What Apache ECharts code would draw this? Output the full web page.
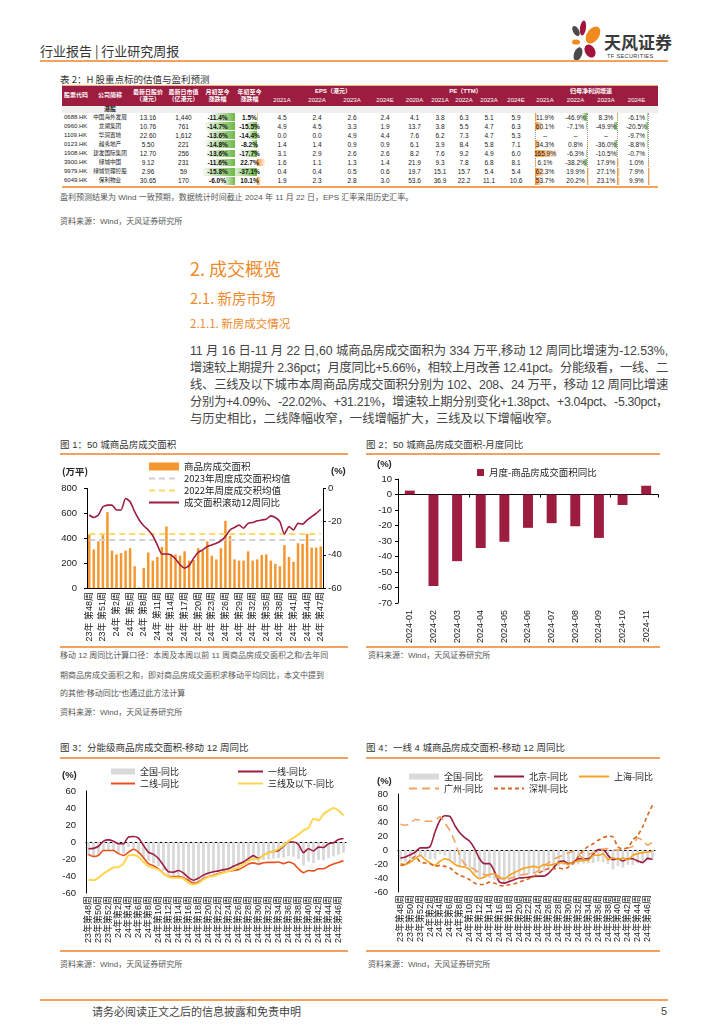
<!DOCTYPE html>
<html lang="zh-CN">
<head>
<meta charset="utf-8">
<title>行业研究周报</title>
<script src="https://cdn.jsdelivr.net/npm/echarts@6/dist/echarts.min.js"></script>
<style>
html,body{margin:0;padding:0;background:#fff;}
body{width:724px;height:1024px;position:relative;overflow:hidden;font-family:"Liberation Sans","Noto Sans CJK SC",sans-serif;color:#333;}
.a{position:absolute;white-space:nowrap;}
.cap{font-size:9.5px;color:#333;line-height:12px;}
.src{font-size:8px;color:#555;line-height:10px;}
.rule{position:absolute;height:1.5px;background:#F3A15C;}
.h{color:#EE8A2B;font-family:"Noto Sans CJK SC",sans-serif;}
.p{font-size:12.3px;color:#444;line-height:16px;font-family:"Liberation Sans","Noto Sans CJK SC",sans-serif;}
.tc{position:absolute;text-align:center;white-space:nowrap;font-size:6.5px;font-family:"Liberation Sans","Noto Sans CJK SC",sans-serif;}
.chart{position:absolute;}
</style>
</head>
<body>
<script>
// ================= DATA =================
const weekLabels = ['23年第48周','23年第49周','23年第50周','23年第51周','23年第52周',
'24年第1周','24年第2周','24年第3周','24年第4周','24年第5周','24年第6周','24年第7周','24年第8周','24年第9周','24年第10周',
'24年第11周','24年第12周','24年第13周','24年第14周','24年第15周','24年第16周','24年第17周','24年第18周','24年第19周','24年第20周',
'24年第21周','24年第22周','24年第23周','24年第24周','24年第25周','24年第26周','24年第27周','24年第28周','24年第29周','24年第30周',
'24年第31周','24年第32周','24年第33周','24年第34周','24年第35周','24年第36周','24年第37周','24年第38周','24年第39周','24年第40周',
'24年第41周','24年第42周','24年第43周','24年第44周','24年第45周','24年第46周','24年第47周'];
// 图1 商品房成交面积（万平）
const area50 = [430,310,375,425,610,300,270,280,300,320,175,5,160,285,220,250,330,495,270,270,260,295,220,225,320,300,375,260,230,320,540,420,230,220,220,295,220,230,265,270,220,195,175,345,250,210,360,355,435,325,325,334];
const avg2023 = 385;
const avg2022 = 435;
// 成交面积滚动12周同比（%），同时为“全国-同比”
const rolling12 = [-16,-17.5,-16,-11,-10,-10,-13,-13,-6,-8,-14,-19,-22.5,-25,-28.5,-34,-39.5,-39.5,-40,-42.5,-46,-48,-46.5,-42,-38.5,-37,-35,-34,-33,-31.5,-29,-25,-23.5,-22,-24,-21,-20.5,-19.5,-19,-18.5,-16.5,-17.5,-20,-27.5,-23,-25,-21,-21.5,-19,-17,-15,-12.53];
// 图2 月度同比
const months = ['2024-01','2024-02','2024-03','2024-04','2024-05','2024-06','2024-07','2024-08','2024-09','2024-10','2024-11'];
const monthlyYoY = [2.5,-59,-43,-34.5,-30.5,-21.5,-18.5,-20.5,-28,-6.75,5.66];
// 图3 分能级
const tier1 = [-8,-7.5,-5,1,2.5,1,-2,-2,6,6.5,4.5,-4,-12,-14.5,-19.5,-27.5,-35,-35.5,-33.5,-36.5,-42,-45,-42.5,-39,-36.5,-35,-34,-32.5,-31.5,-28.5,-26,-23.5,-19.5,-16,-19.5,-15.5,-12.5,-11,-10,-5,0,0,-3,-12.5,-8,-10.5,-6,-6.5,-2,-1,3,4.09];
const tier2 = [-14.5,-17,-15.7,-10,-10,-10,-13.7,-15.7,-12,-8.5,-12,-18.5,-25.5,-28,-31.5,-37,-40.5,-40.5,-40.5,-42,-45,-48.5,-47,-43,-40.5,-39,-37,-35.5,-34.5,-33.5,-32.5,-29.5,-26,-24.5,-26,-24.5,-24,-24,-23.5,-25.5,-23.5,-25.5,-31.5,-36,-33.5,-34,-31.5,-31.5,-28.5,-26,-24,-22.02];
const tier3 = [-44.5,-45,-42,-37,-33.5,-30,-29.5,-25.5,-15.7,-15.3,-17.5,-23.5,-28.5,-30.5,-32.5,-37,-41,-42,-42,-43,-48,-50,-48.5,-44,-41,-40,-38,-36,-34.5,-32.5,-29.5,-26,-22.5,-19.5,-20.5,-15.7,-13,-11,-8,-4,1,5,9,13.7,16.5,27.5,25.5,33,37,40,37,31.21];
// 图4 一线城市
const beijing = [-11.5,-10,-6.7,-3,3,3,5,26,42.5,49,48,35,24.5,17.7,12.5,2,-12.5,-19.5,-19.5,-30.5,-45.8,-47.3,-45,-42.5,-40,-39.7,-38.7,-37.7,-37.3,-37.3,-33,-25.3,-17.2,-15.8,-19.5,-17.2,-12.4,-12.4,-12.4,-6.2,0.5,0.5,-7.6,-13.8,-12.4,-15.8,-12.4,-12.4,-15.8,-18,-12,-13.5];
const shanghai = [-19.6,-20.5,-17.2,-12.4,-7.6,-13.8,-18.6,-22,-15.8,-12.4,-14.8,-20.5,-23.4,-24.4,-28.2,-36.3,-41,-38.7,-34.9,-34,-38.7,-41,-36.3,-32.5,-29.1,-25.8,-24.4,-23.4,-25.3,-20.5,-22,-20.5,-18.6,-18.6,-20.5,-17.2,-15.8,-14.8,-14.8,-7.6,-7.6,-5.3,-13.8,-11,-13.4,-11.5,-13.8,-7.6,-5.3,-3.8,-2.9,-1.9];
const guangzhou = [36.8,35.4,37.7,43.5,42.5,41,41,42.5,47.3,38,28,12,-8,-20,-24,-28,-33,-35,-36,-38,-40,-42,-41,-38.7,-36.3,-34.9,-34,-33,-29,-23,-18,-13,-10,-7,-4,-2,-6,-12,-7,-4,-2,1,2,0,0,2,3,5,17,14,7,11.5];
const shenzhen = [-22,-20.5,-14.8,-9,-17.2,-18.6,-19.6,-23.4,-22,-23.4,-25.3,-31.5,-36.3,-38.7,-42.5,-47.3,-49.2,-49.2,-45.9,-47.3,-50.6,-51,-49.7,-48.3,-45.9,-43.5,-41,-37.7,-33,-29.1,-26.8,-26.8,-25.8,-26.8,-24.4,-18.6,-9,-0.5,5.3,9,13.9,17.7,19.6,18.6,4.3,1.9,3.3,13.9,21,33,49.7,64];
// 表2
const tblCodes = ['0688.HK','0960.HK','1109.HK','0123.HK','1908.HK','3900.HK','9979.HK','6049.HK'];
const tblNames = ['中国海外发展','龙湖集团','华润置地','越秀地产','建发国际集团','绿城中国','绿城管理控股','保利物业'];
const tblPrice = [13.16,10.76,22.60,5.50,12.70,9.12,2.96,30.65];
const tblCap = [1440,761,1612,221,256,231,59,170];
const tblMtd = [-11.4,-14.7,-13.6,-14.8,-13.6,-11.6,-15.8,-6.0];
const tblYtd = [1.5,-15.5,-14.4,-8.2,-17.7,22.7,-37.1,10.1];
const eps2021A = [4.5,4.9,0.0,1.4,3.1,1.6,0.4,1.9];
const eps2022A = [2.4,4.5,0.0,1.4,2.9,1.1,0.4,2.3];
const eps2023A = [2.6,3.3,4.9,0.9,2.6,1.3,0.5,2.8];
const eps2024E = [2.4,1.9,4.4,0.9,2.6,1.4,0.6,3.0];
const pe2020A = [4.1,13.7,7.6,6.1,8.2,21.9,19.7,53.6];
const pe2021A = [3.8,3.8,6.2,3.9,7.6,9.3,15.1,36.9];
const pe2022A = [6.3,5.5,7.3,8.4,9.2,7.8,15.7,22.2];
const pe2023A = [5.1,4.7,4.7,5.8,4.9,6.8,5.4,11.1];
const pe2024E = [5.9,6.3,5.3,7.1,6.0,8.1,5.4,10.6];
const np2021A = [11.9,60.1,null,34.3,165.9,6.1,62.3,53.7];
const np2022A = [-46.9,-7.1,null,0.8,-6.3,-38.2,19.9,20.2];
const np2023A = [8.3,-49.9,null,-36.0,-10.5,17.9,27.1,23.1];
const np2024E = [-6.1,-20.5,-9.7,-8.8,-0.7,1.0,7.9,9.9];
</script>

<!-- header -->
<div class="a" style="left:40px;top:43px;font-size:13px;line-height:16px;color:#333;font-family:'Noto Sans CJK SC'">行业报告 | 行业研究周报</div>
<svg class="a" style="left:569px;top:20px" width="34" height="42" viewBox="0 0 34 42">
  <ellipse cx="7" cy="11" rx="3" ry="5.5" transform="rotate(-30 7 11)" fill="#4a4a4a"/>
  <ellipse cx="14" cy="8" rx="3" ry="7.5" transform="rotate(8 14 8)" fill="#A3143C"/>
  <ellipse cx="24" cy="15" rx="6" ry="9.5" transform="rotate(35 24 15)" fill="#F08A1C"/>
  <ellipse cx="7" cy="22" rx="4" ry="2.6" fill="#F08A1C"/>
  <ellipse cx="21" cy="31" rx="5" ry="7" transform="rotate(-30 21 31)" fill="#A3143C"/>
  <ellipse cx="9" cy="34" rx="4" ry="7" transform="rotate(20 9 34)" fill="#4a4a4a"/>
</svg>
<div class="a" style="left:604px;top:32px;font-size:17px;line-height:20px;font-weight:bold;color:#3a3a3a;font-family:'Noto Sans CJK SC'">天风证券</div>
<div class="a" style="left:607px;top:53px;font-size:5.5px;line-height:6px;letter-spacing:0.4px;color:#333">TF SECURITIES</div>
<div class="rule" style="left:40px;top:60px;width:628px;height:2px"></div>

<!-- table -->
<div class="a cap" style="left:60px;top:73px;font-family:'Noto Sans CJK SC'">表 2：H 股重点标的估值与盈利预测</div>
<div id="tbl"></div>
<div class="a src" style="left:60px;top:193px">盈利预测结果为 Wind 一致预期，数据统计时间截止 2024 年 11 月 22 日，EPS 汇率采用历史汇率。</div>
<div class="a src" style="left:60px;top:217px">资料来源：Wind，天风证券研究所</div>

<!-- text -->
<div class="a h" style="left:190px;top:257px;font-size:18px;line-height:22px">2. 成交概览</div>
<div class="a h" style="left:190px;top:289px;font-size:14.5px;line-height:18px">2.1. 新房市场</div>
<div class="a h" style="left:190px;top:316px;font-size:11.5px;line-height:14px">2.1.1. 新房成交情况</div>
<div class="a p fit" style="left:190px;top:343px">11 月 16 日-11 月 22 日,60 城商品房成交面积为 334 万平,移动 12 周同比增速为-12.53%,</div>
<div class="a p fit" style="left:190px;top:360px">增速较上期提升 2.36pct；月度同比+5.66%，相较上月改善 12.41pct。分能级看，一线、二</div>
<div class="a p fit" style="left:190px;top:377px">线、三线及以下城市本周商品房成交面积分别为 102、208、24 万平，移动 12 周同比增速</div>
<div class="a p fit" style="left:190px;top:394px">分别为+4.09%、-22.02%、+31.21%，增速较上期分别变化+1.38pct、+3.04pct、-5.30pct，</div>
<div class="a p" style="left:190px;top:411px">与历史相比，二线降幅收窄，一线增幅扩大，三线及以下增幅收窄。</div>

<!-- chart captions -->
<div class="a cap" style="left:60px;top:439px">图 1：50 城商品房成交面积</div>
<div class="rule" style="left:60px;top:453px;width:288px"></div>
<div class="a cap" style="left:366px;top:439px">图 2：50 城商品房成交面积-月度同比</div>
<div class="rule" style="left:366px;top:453px;width:294px"></div>
<div id="c1" class="chart" style="left:60px;top:456px;width:290px;height:189px"></div>
<div id="c2" class="chart" style="left:366px;top:456px;width:294px;height:189px"></div>
<div class="rule" style="left:60px;top:646px;width:288px"></div>
<div class="rule" style="left:366px;top:646px;width:294px"></div>
<div class="a src" style="left:60px;top:651px">移动 12 周同比计算口径：本周及本周以前 11 周商品房成交面积之和/去年同</div>
<div class="a src" style="left:60px;top:671px">期商品房成交面积之和，即对商品房成交面积求移动平均同比，本文中提到</div>
<div class="a src" style="left:60px;top:689px">的其他“移动同比”也通过此方法计算</div>
<div class="a src" style="left:60px;top:708px">资料来源：Wind，天风证券研究所</div>
<div class="a src" style="left:368px;top:651px">资料来源：Wind，天风证券研究所</div>

<div class="a cap" style="left:60px;top:742px">图 3：分能级商品房成交面积-移动 12 周同比</div>
<div class="rule" style="left:60px;top:757px;width:288px"></div>
<div class="a cap" style="left:366px;top:742px">图 4：一线 4 城商品房成交面积-移动 12 周同比</div>
<div class="rule" style="left:366px;top:757px;width:294px"></div>
<div id="c3" class="chart" style="left:60px;top:760px;width:290px;height:190px"></div>
<div id="c4" class="chart" style="left:366px;top:760px;width:294px;height:190px"></div>
<div class="rule" style="left:60px;top:950px;width:288px"></div>
<div class="rule" style="left:366px;top:950px;width:294px"></div>
<div class="a src" style="left:60px;top:960px">资料来源：Wind，天风证券研究所</div>
<div class="a src" style="left:368px;top:960px">资料来源：Wind，天风证券研究所</div>

<!-- footer -->
<div class="rule" style="left:40px;top:999px;width:628px;height:2px"></div>
<div class="a" style="left:92px;top:1004px;font-size:11px;line-height:14px;color:#444;font-family:'Noto Sans CJK SC'">请务必阅读正文之后的信息披露和免责申明</div>
<div class="a" style="left:661px;top:1004px;font-size:11px;line-height:14px;color:#444">5</div>

<script>
// ---------- paragraph justification ----------
document.querySelectorAll('.fit').forEach(el => {
  const target = 478;
  const w = el.getBoundingClientRect().width;
  const n = [...el.textContent].length;
  el.style.letterSpacing = ((target - w) / n) + 'px';
});

// ---------- table ----------
(function(){
  const host = document.getElementById('tbl');
  const cols = [[62,28],[90,40],[130,36],[166,35],[201,33],[234,31],[265,34],[299,36],[335,34],[369,32],[401,27],[428,24],[452,24],[476,26],[502,28],[530,30],[560,31],[591,30],[621,31]];
  const add = (x,y,w,h,html,st) => {
    const d = document.createElement('div');
    d.className = 'tc';
    d.style.cssText += `left:${x}px;top:${y}px;width:${w}px;height:${h}px;line-height:${h}px;` + (st||'');
    d.innerHTML = html; host.appendChild(d); return d;
  };
  const box = (x,y,w,h,st) => { const d=document.createElement('div'); d.style.cssText=`position:absolute;left:${x}px;top:${y}px;width:${w}px;height:${h}px;`+st; host.appendChild(d); };
  box(62,84.5,596,1,'background:#F4B183');
  box(62,85.5,596,20,'background:#9C1D3F');
  const hs = 'color:#fff;font-weight:bold;font-size:6px;';
  const twoLine = ['股票代码','公司简称','最新日股价<br>（港元）','最新日市值<br>（亿港元）','月初至今<br>涨跌幅','年初至今<br>涨跌幅'];
  twoLine.forEach((t,i)=>{
    const d = add(cols[i][0],86,cols[i][1],19,t,hs);
    d.style.lineHeight='7px'; d.style.display='flex'; d.style.alignItems='center'; d.style.justifyContent='center';
  });
  const groups = [['EPS（港元）',6,9],['PE（TTM）',10,14],['归母净利润增速',15,18]];
  groups.forEach(g=>{ const x0=cols[g[1]][0], x1=cols[g[2]][0]+cols[g[2]][1]; add(x0,87,x1-x0,9,g[0],hs); });
  const years = ['2021A','2022A','2023A','2024E','2020A','2021A','2022A','2023A','2024E','2021A','2022A','2023A','2024E'];
  years.forEach((y,i)=>add(cols[6+i][0],96,cols[6+i][1],9,y,hs+'font-weight:normal;'));
  box(62,105.5,596,7,'background:#EFEFEF');
  add(cols[1][0],105.5,cols[1][1],7,'港股','font-weight:bold;color:#222;font-size:6px;');
  // data bars
  const barSpec = {
    4:{axis:235,neg:[32,15.8],pos:[8,10]},
    5:{axis:257,neg:[27,37.1],pos:[8,22.7]},
    15:{axis:535,neg:[4,10],pos:[23,165.9],line:true},
    16:{axis:587,neg:[5,46.9],pos:[2,20.2],line:true},
    17:{axis:617,neg:[4,49.9],pos:[3,27.1],line:true},
    18:{axis:648,neg:[3,20.5],pos:[2,9.9],line:true}
  };
  const rowTop = 112.5, rowH = 9.1;
  Object.keys(barSpec).forEach(k=>{ const s=barSpec[k]; if(s.line) box(s.axis,rowTop,0,rowH*8,'border-left:1px dotted #999'); });
  const pct = v => v==null ? '–' : v.toFixed(1)+'%';
  const rows = tblCodes.map((c,i)=>[c,tblNames[i],tblPrice[i].toFixed(2),tblCap[i].toLocaleString('en-US'),tblMtd[i],tblYtd[i],
     eps2021A[i],eps2022A[i],eps2023A[i],eps2024E[i],pe2020A[i],pe2021A[i],pe2022A[i],pe2023A[i],pe2024E[i],np2021A[i],np2022A[i],np2023A[i],np2024E[i]]);
  rows.forEach((r,ri)=>{
    const y = rowTop + ri*rowH;
    r.forEach((v,ci)=>{
      const spec = barSpec[ci];
      if (spec && v!=null) {
        const neg = v<0, len = neg ? Math.abs(v)/spec.neg[1]*spec.neg[0] : v/spec.pos[1]*spec.pos[0];
        const col = neg ? '112,184,74' : '244,146,46';
        const x = neg ? spec.axis-len : spec.axis;
        const grad = neg ? `linear-gradient(to left, rgba(${col},1), rgba(${col},0.08))` : `linear-gradient(to right, rgba(${col},1), rgba(${col},0.08))`;
        box(x, y+0.6, Math.max(len,0.6), rowH-1.2, `background:${grad}`);
      }
      let txt;
      if (ci>=4 && ci<=5 || ci>=15) txt = pct(v);
      else if (ci>=6) txt = v.toFixed(1);
      else txt = v;
      let st = (ci==4||ci==5) ? 'font-weight:bold;color:#111;' : 'color:#222;';
      if (ci==1) st += 'font-size:5.6px;';
      if (ci==0) add(cols[0][0]+2,y,cols[0][1],rowH,txt,st+'text-align:left;font-size:6px;');
      else add(cols[ci][0],y,cols[ci][1],rowH,txt,st);
    });
  });
  box(62,186,596,2,'background:#F3A15C');
})();

// ---------- charts ----------
const FF = '"Liberation Sans","Noto Sans CJK SC",sans-serif';
const CJK = '"Noto Sans CJK SC",sans-serif';
const lbl = o => Object.assign({color:'#1a1a1a',fontSize:9.5,fontFamily:FF}, o||{});
const blk = {show:true,lineStyle:{color:'#000',width:1}};
const RED = '#9C1D3F';
const legendText = {fontSize:9.5,color:'#222',fontFamily:CJK,lineHeight:11};
const noSym = name => ({name, itemStyle:{opacity:0}});

// chart 1
const c1 = echarts.init(document.getElementById('c1'));
c1.setOption({
  animation:false,
  grid:{left:27,right:27,top:32.5,bottom:57,outerBoundsMode:'none'},
  legend:{orient:'vertical',left:83,top:0,itemWidth:30,itemHeight:8,itemGap:1,textStyle:legendText,
    data:[{name:'商品房成交面积',icon:'rect'},noSym('2023年周度成交面积均值'),noSym('2022年周度成交积均值'),noSym('成交面积滚动12周同比')]},
  graphic:[
    {type:'text',left:2,top:11,style:{text:'(万平)',font:'bold 9.5px '+CJK,fill:'#222'}},
    {type:'text',left:271,top:11,style:{text:'(%)',font:'bold 9.5px '+FF,fill:'#222'}}
  ],
  xAxis:{type:'category',data:weekLabels,boundaryGap:true,axisLine:blk,axisTick:{show:false},
    axisLabel:lbl({rotate:90,interval:2,fontSize:9,margin:4,formatter:v=>v.replace('年','年 ')})},
  yAxis:[
    {type:'value',min:0,max:800,interval:200,splitLine:{show:false},axisLine:blk,axisTick:{show:true,length:3,lineStyle:{color:'#000'}},axisLabel:lbl({margin:10})},
    {type:'value',min:-60,max:0,interval:20,position:'right',splitLine:{show:false},axisLine:blk,axisTick:{show:true,length:3,lineStyle:{color:'#000'}},axisLabel:lbl({margin:5})}
  ],
  series:[
    {name:'商品房成交面积',type:'bar',data:area50,barWidth:'55%',itemStyle:{color:'#F5972F'},silent:true},
    {name:'2023年周度成交面积均值',type:'line',data:weekLabels.map(()=>avg2023),symbol:'none',lineStyle:{color:'#D0D0D0',width:2,type:[6,4]},itemStyle:{color:'#D0D0D0'},silent:true},
    {name:'2022年周度成交积均值',type:'line',data:weekLabels.map(()=>avg2022),symbol:'none',lineStyle:{color:'#FFD966',width:2,type:[6,4]},itemStyle:{color:'#FFD966'},silent:true},
    {name:'成交面积滚动12周同比',type:'line',yAxisIndex:1,data:rolling12,symbol:'none',smooth:0.2,lineStyle:{color:RED,width:1.6},itemStyle:{color:RED},silent:true}
  ]
});

// chart 2
const c2 = echarts.init(document.getElementById('c2'));
c2.setOption({
  animation:false,
  grid:{left:32,right:2,top:23,bottom:42,outerBoundsMode:'none'},
  legend:{left:106,top:6,itemWidth:7,itemHeight:7,icon:'rect',textStyle:legendText,data:['月度-商品房成交面积同比']},
  graphic:[{type:'text',left:11,top:4,style:{text:'(%)',font:'bold 9.5px '+FF,fill:'#222'}}],
  xAxis:[
    {type:'category',data:months,axisLine:{show:false,onZero:false},axisTick:{show:false},axisLabel:lbl({rotate:90,interval:0,fontSize:9,margin:7})},
    {type:'category',data:months,position:'bottom',axisLine:{show:true,onZero:true,lineStyle:{color:'#000'}},axisTick:{show:true,length:3,lineStyle:{color:'#000'}},axisLabel:{show:false}}
  ],
  yAxis:{type:'value',min:-70,max:10,interval:10,splitLine:{show:false},axisLine:blk,axisTick:{show:true,length:3,lineStyle:{color:'#000'}},axisLabel:lbl({margin:6})},
  series:[{name:'月度-商品房成交面积同比',type:'bar',data:monthlyYoY,barWidth:'42%',itemStyle:{color:RED},silent:true}]
});

// chart 3 & 4 shared axis parts
const weekX = margin => [
  {type:'category',data:weekLabels,axisLine:{show:false,onZero:false},axisTick:{show:false},axisLabel:lbl({rotate:90,interval:1,fontSize:9,margin:margin})},
  {type:'category',data:weekLabels,position:'bottom',axisLine:{show:true,onZero:true,lineStyle:{color:'#000',width:1}},axisTick:{show:false},axisLabel:{show:false}}
];
const lineS = (name,data,color,width,type) => ({name,type:'line',data,symbol:'none',smooth:0.25,lineStyle:{color,width,type:type||'solid'},itemStyle:{color},silent:true});
const leg = (left,top,data,iw) => ({orient:'vertical',left,top,itemWidth:iw,itemHeight:6,itemGap:1,textStyle:Object.assign({},legendText,{fontSize:9}),data});

const c3 = echarts.init(document.getElementById('c3'));
c3.setOption({
  animation:false,
  grid:{left:26,right:4,top:31,bottom:57,outerBoundsMode:'none'},
  legend:[leg(45,1,[{name:'全国-同比',icon:'rect'},noSym('二线-同比')],24), leg(172,1,[noSym('一线-同比'),noSym('三线及以下-同比')],25)],
  graphic:[{type:'text',left:2,top:11,style:{text:'(%)',font:'bold 9.5px '+FF,fill:'#222'}}],
  xAxis:weekX(3),
  yAxis:{type:'value',min:-60,max:60,interval:20,splitLine:{show:false},axisLine:blk,axisTick:{show:false},axisLabel:lbl({margin:10})},
  series:[
    {name:'全国-同比',type:'bar',data:rolling12,barWidth:'55%',itemStyle:{color:'#D9D9D9'},silent:true},
    lineS('一线-同比',tier1,RED,1.6),
    lineS('二线-同比',tier2,'#E8501E',1.6),
    lineS('三线及以下-同比',tier3,'#FFD54F',2)
  ]
});

const c4 = echarts.init(document.getElementById('c4'));
c4.setOption({
  animation:false,
  grid:{left:32,right:5,top:34,bottom:58,outerBoundsMode:'none'},
  legend:[leg(37,6,[{name:'全国-同比',icon:'rect'},noSym('广州-同比')],30), leg(122,6,[noSym('北京-同比'),noSym('深圳-同比')],30), leg(207,6,[noSym('上海-同比')],30)],
  graphic:[{type:'text',left:11,top:17,style:{text:'(%)',font:'bold 9.5px '+FF,fill:'#222'}}],
  xAxis:weekX(3),
  yAxis:{type:'value',min:-60,max:80,interval:20,splitLine:{show:false},axisLine:blk,axisTick:{show:false},axisLabel:lbl({margin:10})},
  series:[
    {name:'全国-同比',type:'bar',data:rolling12,barWidth:'55%',itemStyle:{color:'#D9D9D9'},silent:true},
    lineS('北京-同比',beijing,RED,1.6),
    lineS('上海-同比',shanghai,'#F7A21B',1.6),
    lineS('广州-同比',guangzhou,'#F5A25D',1.6,[8,5]),
    lineS('深圳-同比',shenzhen,'#D9641E',1.6,[4,3])
  ]
});
</script>
</body>
</html>
